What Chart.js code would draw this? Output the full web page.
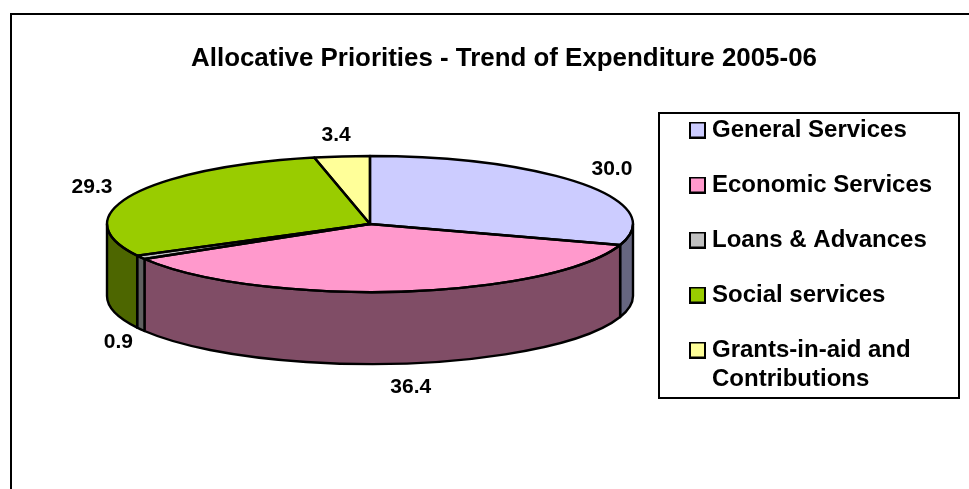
<!DOCTYPE html>
<html>
<head>
<meta charset="utf-8">
<style>html,body{margin:0;padding:0;background:#fff}canvas{display:block}</style>
<script src="https://cdn.jsdelivr.net/npm/chart.js@4"></script>
</head>
<body>
<canvas id="c" width="969" height="489" style="width:969px;height:489px"></canvas>
<script>
const chartTitle = 'Allocative Priorities - Trend of Expenditure 2005-06';
const categories = ['General Services','Economic Services','Loans & Advances','Social services',['Grants-in-aid and','Contributions']];
const values = [30.0,36.4,0.9,29.3,3.4];
const topColors = ['#CCCCFF','#FF99CC','#C0C0C0','#99CC00','#FFFF99'];
const wallColors = ['#666680','#804D66','#606060','#4D6600','#808050'];

const FONT = '"Liberation Sans", Arial, sans-serif';
const PIE = {cx:370, cy:224, rx:263, ry:68, depth:72};
const labelNudge = [[0,-1],[7,1],[9,1.5],[-7,1.5],[-2,1.5]];
const LEGEND = {swatchCx:697.5, swatchSize:17, pointW:5, firstCy:130, rowStep:55, lineH:29, size:24};

function swatch(color){
  const s = LEGEND.swatchSize, cv = document.createElement('canvas');
  cv.width = s; cv.height = s;
  const g = cv.getContext('2d');
  g.fillStyle = color; g.fillRect(1,1,s-2,s-2);
  g.strokeStyle = '#000'; g.lineWidth = 2; g.strokeRect(1,1,s-2,s-2);
  return cv;
}

const pie3d = {
  id:'pie3d',
  afterLayout(chart){
    const p = PIE;
    const a = chart.chartArea;
    a.left = p.cx-p.rx; a.right = p.cx+p.rx; a.top = p.cy-p.rx; a.bottom = p.cy+p.rx;
    a.width = 2*p.rx; a.height = 2*p.rx;
    const t = chart.titleBlock;
    t.left = 104; t.right = 904; t.width = 800;
    t.top = 58.5 - t.options.font.lineHeight*t.options.font.size/2;
    const l = chart.legend;
    const pad = LEGEND.rowStep-LEGEND.size;
    l.left = LEGEND.swatchCx - LEGEND.pointW/2 - pad; l.right = 958; l.width = l.right-l.left;
    l.top = LEGEND.firstCy - LEGEND.size/2 - pad; l.bottom = 450; l.height = l.bottom-l.top;
  },
  beforeDraw(chart){
    const c = chart.ctx;
    c.save();
    c.strokeStyle = '#000'; c.lineWidth = 2;
    c.beginPath(); c.moveTo(11,489); c.lineTo(11,14); c.lineTo(969,14); c.stroke();
    c.lineWidth = 2;
    c.strokeRect(659,113,300,285);
    c.restore();
  },
  beforeDatasetsDraw(chart){
    const c = chart.ctx, p = PIE;
    c.save();
    c.translate(p.cx,p.cy); c.scale(1,p.ry/p.rx); c.translate(-p.cx,-p.cy);
  },
  afterDatasetsDraw(chart){
    const c = chart.ctx, p = PIE;
    c.restore();
    c.save();
    c.lineWidth = 2.4; c.lineJoin = 'round'; c.strokeStyle = '#000';
    const arcs = chart.getDatasetMeta(0).data;
    // walls
    arcs.forEach((el,i)=>{
      const s = Math.max(el.startAngle,0), e = Math.min(el.endAngle,Math.PI);
      if(e<=s) return;
      c.beginPath();
      c.ellipse(p.cx,p.cy,p.rx,p.ry,0,s,e);
      c.lineTo(p.cx+p.rx*Math.cos(e),p.cy+p.ry*Math.sin(e)+p.depth);
      c.ellipse(p.cx,p.cy+p.depth,p.rx,p.ry,0,e,s,true);
      c.closePath();
      c.fillStyle = wallColors[i]; c.fill(); c.stroke();
    });
    // slice outlines on the top face
    arcs.forEach(el=>{
      c.beginPath();
      c.moveTo(p.cx,p.cy);
      c.ellipse(p.cx,p.cy,p.rx,p.ry,0,el.startAngle,el.endAngle);
      c.closePath();
      c.stroke();
    });
    // value labels
    c.fillStyle = '#000';
    c.font = 'bold 21px '+FONT;
    c.textAlign = 'center'; c.textBaseline = 'middle';
    arcs.forEach((el,i)=>{
      const m = (el.startAngle+el.endAngle)/2;
      const sin = Math.sin(m), cos = Math.cos(m);
      const x = p.cx+(p.rx+36)*cos+labelNudge[i][0];
      const y = p.cy+(p.ry+23)*sin+(sin>0?p.depth:0)+labelNudge[i][1];
      c.fillText(values[i].toFixed(1),x,y);
    });
    c.restore();
  }
};

new Chart(document.getElementById('c'),{
  type:'pie',
  data:{labels:categories,datasets:[{data:values,backgroundColor:topColors,borderWidth:0}]},
  plugins:[pie3d],
  options:{
    responsive:false,animation:false,events:[],
    radius:PIE.rx,
    plugins:{
      tooltip:{enabled:false},
      title:{display:true,text:chartTitle,color:'#000',padding:0,
        font:{family:FONT,size:25.9,weight:'bold',lineHeight:1.2}},
      legend:{display:true,position:'right',align:'start',
        labels:{
          color:'#000',usePointStyle:true,pointStyleWidth:LEGEND.pointW,boxHeight:LEGEND.swatchSize,
          padding:LEGEND.rowStep-LEGEND.size,
          font:{family:FONT,size:LEGEND.size,weight:'bold',lineHeight:LEGEND.lineH/LEGEND.size},
          generateLabels(chart){
            const items = Chart.overrides.doughnut.plugins.legend.labels.generateLabels(chart);
            items.forEach((it,i)=>{it.pointStyle = swatch(topColors[i]); it.lineWidth = 0;});
            return items;
          }
        }
      }
    }
  }
});
</script>
</body>
</html>
